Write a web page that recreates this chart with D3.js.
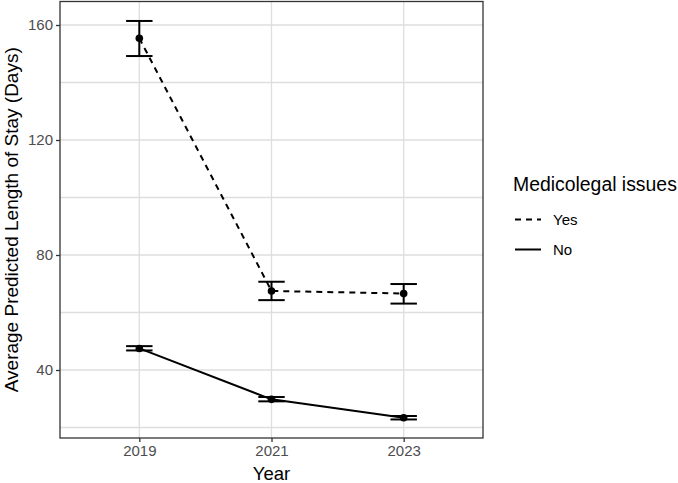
<!DOCTYPE html>
<html>
<head>
<meta charset="utf-8">
<script src="https://cdn.jsdelivr.net/npm/d3@7"></script>
<style>
  body { margin: 0; background: #fff; }
  text { font-family: 'Liberation Sans', Arial, Helvetica, sans-serif; }
</style>
</head>
<body>
<div id="chart"></div>
<script>
const years = ['2019', '2021', '2023']

const yesMean = [155.4, 67.5, 66.6]
const yesLow = [149.2, 64.3, 63.1]
const yesHigh = [161.4, 70.7, 69.9]

const noMean = [47.5, 29.8, 23.4]
const noLow = [46.8, 29.1, 22.8]
const noHigh = [48.3, 30.6, 24.0]

const yTicks = [40, 80, 120, 160]
const yMinor = [20, 60, 100, 140]

const seriesNames = ['Yes', 'No']

const width = 678
const height = 483
const panel = { left: 60, top: 1.5, right: 483, bottom: 438 }

const svg = d3
  .select('#chart')
  .append('svg')
  .attr('width', width)
  .attr('height', height)

const x = d3
  .scalePoint()
  .domain(years)
  .range([panel.left, panel.right])
  .padding(0.6)

const y = d3
  .scaleLinear()
  .domain([16.35, 168.17])
  .range([panel.bottom, panel.top])

const capHalf = x.step() * 0.1

// grid
svg
  .append('g')
  .selectAll('line')
  .data(yMinor.concat(yTicks))
  .enter()
  .append('line')
  .attr('x1', panel.left)
  .attr('x2', panel.right)
  .attr('y1', d => y(d))
  .attr('y2', d => y(d))
  .attr('stroke', '#dedede')
  .attr('stroke-width', 1.3)

svg
  .append('g')
  .selectAll('line')
  .data(years)
  .enter()
  .append('line')
  .attr('x1', d => x(d))
  .attr('x2', d => x(d))
  .attr('y1', panel.top)
  .attr('y2', panel.bottom)
  .attr('stroke', '#dedede')
  .attr('stroke-width', 1.3)

const series = [
  { name: 'Yes', mean: yesMean, low: yesLow, high: yesHigh, dash: '6,5' },
  { name: 'No', mean: noMean, low: noLow, high: noHigh, dash: null }
]

const line = d3
  .line()
  .x((d, i) => x(years[i]))
  .y(d => y(d))

series.forEach(s => {
  const g = svg.append('g')

  g.append('path')
    .datum(s.mean)
    .attr('d', line)
    .attr('fill', 'none')
    .attr('stroke', '#000')
    .attr('stroke-width', 2)
    .attr('stroke-dasharray', s.dash)

  years.forEach((yr, i) => {
    const cx = x(yr)
    g.append('line')
      .attr('x1', cx).attr('x2', cx)
      .attr('y1', y(s.low[i])).attr('y2', y(s.high[i]))
      .attr('stroke', '#000').attr('stroke-width', 2)
    ;[s.low[i], s.high[i]].forEach(v => {
      g.append('line')
        .attr('x1', cx - capHalf).attr('x2', cx + capHalf)
        .attr('y1', y(v)).attr('y2', y(v))
        .attr('stroke', '#000').attr('stroke-width', 2)
    })
  })

  g.selectAll('circle')
    .data(s.mean)
    .enter()
    .append('circle')
    .attr('cx', (d, i) => x(years[i]))
    .attr('cy', d => y(d))
    .attr('r', 3.8)
    .attr('fill', '#000')
})

// panel border
svg
  .append('rect')
  .attr('x', panel.left)
  .attr('y', panel.top)
  .attr('width', panel.right - panel.left)
  .attr('height', panel.bottom - panel.top)
  .attr('fill', 'none')
  .attr('stroke', '#333')
  .attr('stroke-width', 1.3)

// axes
const yAxis = d3.axisLeft(y).tickValues(yTicks).tickSize(4).tickPadding(3)
svg
  .append('g')
  .attr('class', 'axis y-axis')
  .attr('transform', 'translate(' + panel.left + ',0)')
  .call(yAxis)

const xAxis = d3.axisBottom(x).tickSize(4).tickPadding(3)
svg
  .append('g')
  .attr('class', 'axis x-axis')
  .attr('transform', 'translate(0,' + panel.bottom + ')')
  .call(xAxis)

svg.selectAll('.axis path').remove()
svg.selectAll('.axis line').attr('stroke', '#333').attr('stroke-width', 1.3)
svg
  .selectAll('.axis text')
  .attr('fill', '#4d4d4d')
  .attr('font-size', 15)
  .attr('font-family', "'Liberation Sans', Arial, sans-serif")

// titles
svg
  .append('text')
  .text('Year')
  .attr('x', (panel.left + panel.right) / 2)
  .attr('y', 480)
  .attr('text-anchor', 'middle')
  .attr('font-size', 18.5)

svg
  .append('text')
  .text('Average Predicted Length of Stay (Days)')
  .attr('transform', 'translate(18,' + (panel.top + panel.bottom) / 2 + ') rotate(-90)')
  .attr('text-anchor', 'middle')
  .attr('font-size', 19)

// legend
const legend = svg.append('g').attr('transform', 'translate(513,0)')
legend
  .append('text')
  .text('Medicolegal issues')
  .attr('x', 0)
  .attr('y', 191)
  .attr('font-size', 19.4)

seriesNames.forEach((name, i) => {
  const ly = 219.5 + i * 30
  legend
    .append('line')
    .attr('x1', 2)
    .attr('x2', 28)
    .attr('y1', ly)
    .attr('y2', ly)
    .attr('stroke', '#000')
    .attr('stroke-width', 2)
    .attr('stroke-dasharray', series[i].dash)
  legend
    .append('text')
    .text(name)
    .attr('x', 40)
    .attr('y', ly + 5.5)
    .attr('font-size', 15)
})
</script>
</body>
</html>
